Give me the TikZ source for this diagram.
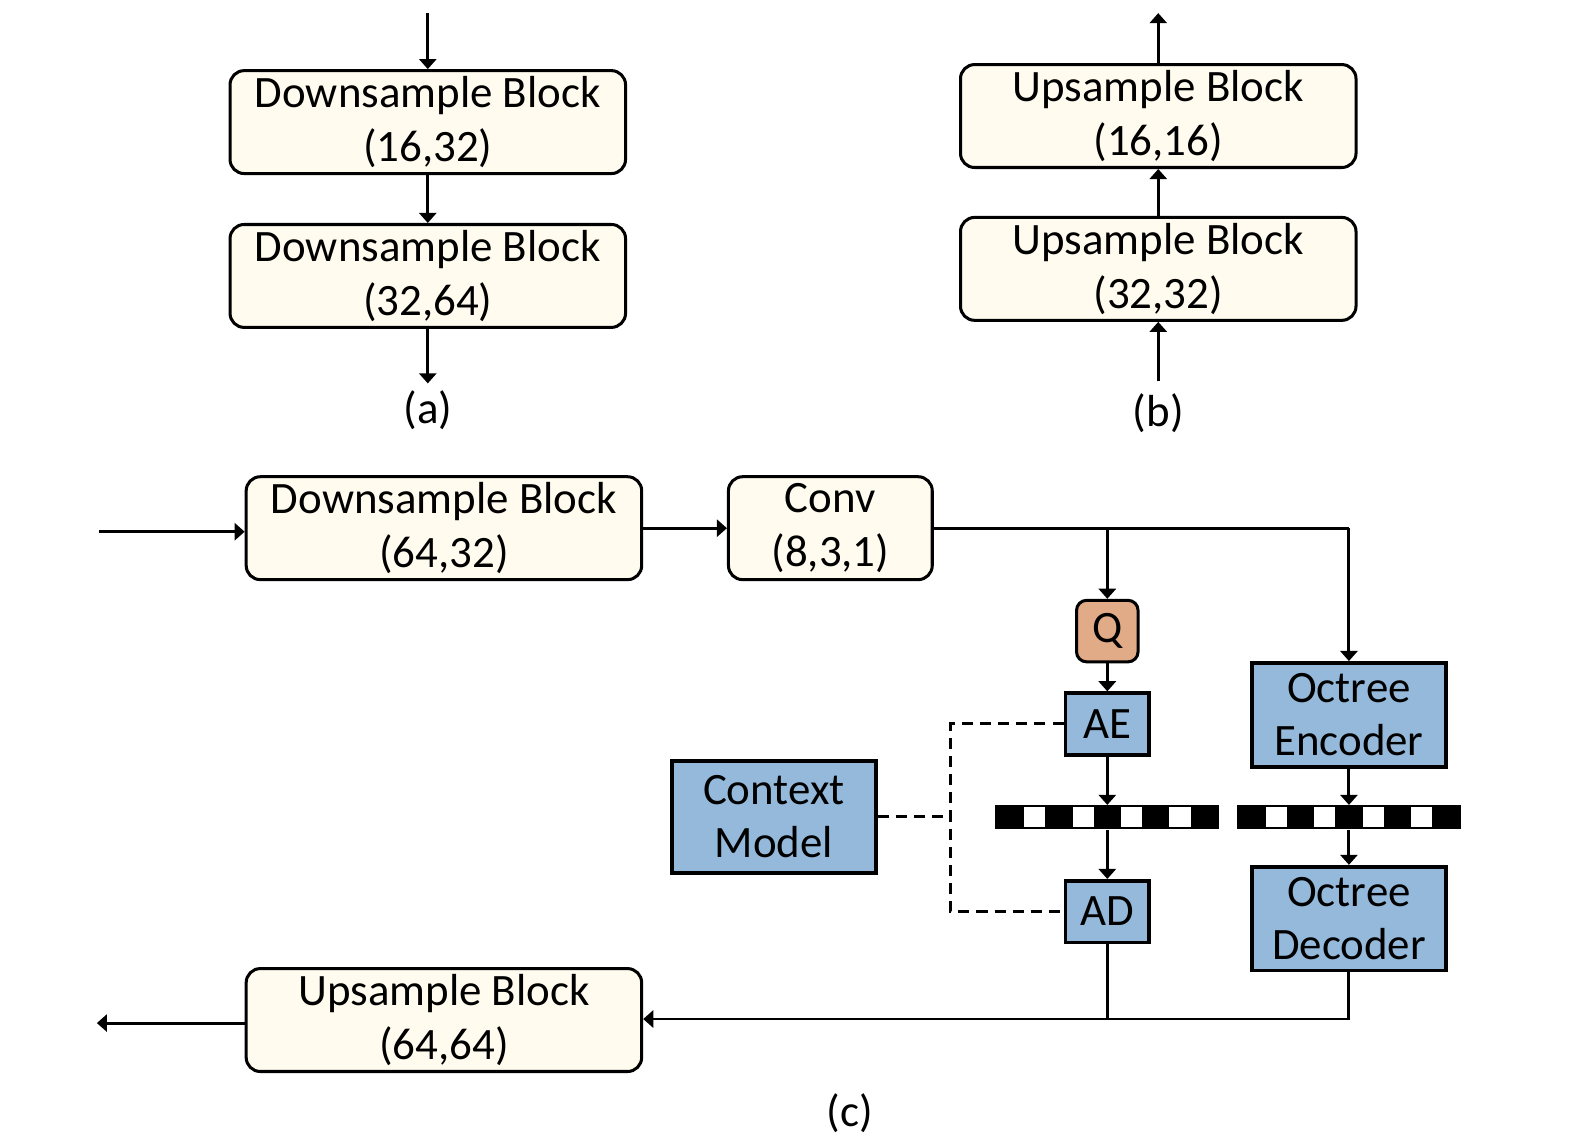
\documentclass[tikz,border=0pt]{standalone}
\usepackage{fontspec}
\setmainfont{Carlito}
\usetikzlibrary{arrows.meta,calc}
\definecolor{cream}{HTML}{FFFCEF}
\definecolor{boxblue}{HTML}{95B9DB}
\definecolor{qorange}{HTML}{E2AB88}
\begin{document}
\begin{tikzpicture}[x=1pt,y=-1pt,
  txt/.style={font=\fontsize{44.5}{53}\selectfont, align=center, inner sep=0pt},
  cbox/.style={txt, draw, line width=3pt, fill=cream, rounded corners=14pt, minimum height=102pt},
  bbox/.style={txt, draw, line width=3.6pt, fill=boxblue, minimum height=61pt},
  bitbar/.style={fill=black, minimum width=222pt, minimum height=24pt, inner sep=0pt},
  arr/.style={line width=2.9pt, -{Triangle[width=17pt,length=10pt]}},
  ln/.style={line width=2.9pt},
  dline/.style={line width=2.9pt, dash pattern=on 11pt off 7pt}
]
\useasboundingbox (0,0) rectangle (1568,1136);

% (a)
\node[cbox, minimum width=392pt] (a1) at (424,121) {Downsample Block\\(16,32)};
\node[cbox, minimum width=392pt] (a2) at (424,273.5) {Downsample Block\\(32,64)};
\coordinate (ain) at (424,13);
\coordinate (aout) at (424,380);
\draw[arr] (ain) -- (a1.north);
\draw[arr] (a1.south) -- (a2.north);
\draw[arr] (a2.south) -- (aout);
\node[txt] (la) at (424,407) {(a)};

% (b)
\node[cbox, minimum width=392pt] (b1) at (1148,115) {Upsample Block\\(16,16)};
\node[cbox, minimum width=392pt] (b2) at (1148,266.5) {Upsample Block\\(32,32)};
\coordinate (bout) at (1148,13);
\coordinate (bin) at (1148,378);
\draw[arr] (b1.north) -- (bout);
\draw[arr] (b2.north) -- (b1.south);
\draw[arr] (bin) -- (b2.south);
\node[txt] (lb) at (1148,410) {(b)};

% (c)
\node[cbox, minimum width=392pt] (c1) at (440,523.5) {Downsample Block\\(64,32)};
\node[cbox, minimum width=202pt] (conv) at (823,523.5) {Conv\\(8,3,1)};
\node[txt, draw, line width=3pt, fill=qorange, rounded corners=10pt, minimum width=61pt, minimum height=61pt] (q) at (1097.5,625.5) {Q};
\node[bbox, minimum width=83pt] (ae) at (1097.5,717.5) {AE};
\node[bbox, minimum width=83pt] (ad) at (1097.5,903.5) {AD};
\node[bbox, minimum width=192pt, minimum height=103pt] (oe) at (1337,708.5) {Octree\\Encoder};
\node[bbox, minimum width=192pt, minimum height=103pt] (od) at (1337,910.5) {Octree\\Decoder};
\node[bbox, minimum width=202pt, minimum height=111pt] (ctx) at (767,809.5) {Context\\Model};
\node[cbox, minimum width=392pt] (up) at (440,1011) {Upsample Block\\(64,64)};
\node[txt] (lc) at (842,1103) {(c)};

% bit bars
\node[bitbar] (bar1) at (1097.5,810) {};
\node[bitbar] (bar2) at (1337,810) {};
\foreach \b in {bar1,bar2}{
  \foreach \dx in {-72,-24,24,72}{
    \fill[white] ($(\b.center)+(\dx-10.5,-10)$) rectangle ++(21,20);
  }
}

% connectors
\coordinate (cin) at (98,527);
\draw[arr] (cin) -- (cin -| c1.west);
\draw[arr] (c1.east) -- (conv.west);
\coordinate (tr) at (1337,523.5);
\coordinate (tq) at (1097.5,523.5);
\draw[ln] (conv.east) -- (tr);
\draw[arr] (tr) -- (oe.north);
\draw[arr] (tq) -- (q.north);
\draw[arr] (q.south) -- (ae.north);
\draw[arr] (ae.south) -- (bar1.north);
\draw[arr] (bar1.south) -- (ad.north);
\draw[arr] (oe.south) -- (bar2.north);
\draw[arr] (bar2.south) -- (od.north);
\coordinate (jd) at (1097.5,1010);
\coordinate (jo) at (1337,1010);
\draw[ln] (od.south) -- (jo) -- (jd);
\draw[arr] (ad.south) -- (jd) -- (jd -| up.east);
\coordinate (cout) at (96,1014);
\draw[arr] (cout -| up.west) -- (cout);

% dashed context links
\coordinate (dm) at (942,809.5);
\coordinate (dt) at (942,717.5);
\coordinate (db) at (942,903.5);
\draw[dline] (ctx.east) -- (dm);
\draw[dline] (ae.west) -- (dt) -- (db) -- (ad.west);
\end{tikzpicture}
\end{document}
